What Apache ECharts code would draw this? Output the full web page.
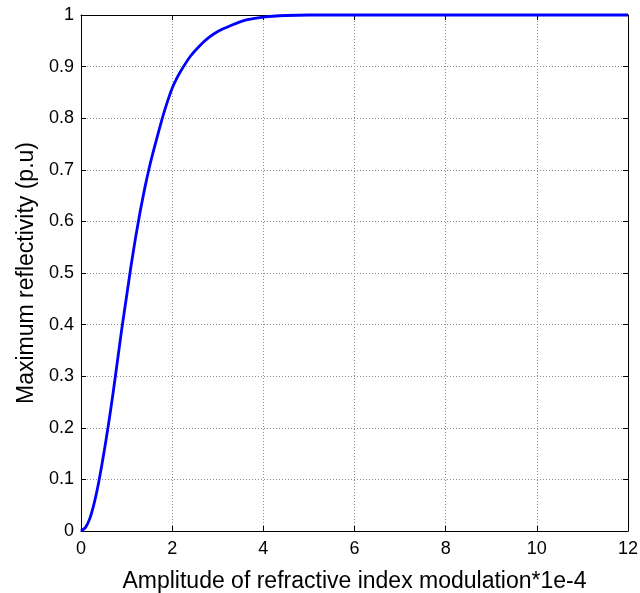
<!DOCTYPE html>
<html>
<head>
<meta charset="utf-8">
<script src="https://cdn.jsdelivr.net/npm/echarts@6/dist/echarts.min.js"></script>
<style>
  html, body { margin: 0; padding: 0; background: #fff; }
  #chart { width: 640px; height: 593px; }
</style>
</head>
<body>
<div id="chart"></div>
<script>
// Amplitude of refractive index modulation (x 1e-4)
const amplitude = [0, 0.1, 0.2, 0.3, 0.4, 0.5, 0.6, 0.7, 0.8, 0.9, 1.0, 1.1, 1.2, 1.3, 1.4, 1.5, 1.6, 1.7, 1.8, 1.9, 2.0, 2.1, 2.2, 2.4, 2.6, 2.8, 3.0, 3.3, 3.6, 4.0, 4.5, 5, 6, 8, 10, 12];
// Maximum reflectivity (p.u)
const reflectivity = [0, 0.007, 0.026, 0.058, 0.10, 0.15, 0.205, 0.265, 0.33, 0.395, 0.455, 0.515, 0.57, 0.62, 0.665, 0.705, 0.74, 0.773, 0.805, 0.833, 0.858, 0.877, 0.893, 0.92, 0.94, 0.956, 0.968, 0.98, 0.99, 0.996, 0.999, 1, 1, 1, 1, 1];

const xTicks = { min: 0, max: 12, interval: 2 };
const yTicks = { min: 0, max: 1, interval: 0.1 };

const font = 'Liberation Sans, Arial, sans-serif';
const chart = echarts.init(document.getElementById('chart'));

const gridLine = { show: true, lineStyle: { color: '#8c8c8c', type: [1, 2], width: 1 } };
const axisLine = { show: true, onZero: false, lineStyle: { color: '#000', width: 1 } };
const innerTick = { show: true, inside: true, length: 5, lineStyle: { color: '#000' } };

chart.setOption({
  animation: false,
  grid: { left: 81, right: 12, top: 15, bottom: 62, containLabel: false, outerBoundsMode: 'none' },
  xAxis: [
    {
      type: 'value', min: xTicks.min, max: xTicks.max, interval: xTicks.interval,
      name: 'Amplitude of refractive index modulation*1e-4',
      nameLocation: 'middle', nameGap: 39,
      nameTextStyle: { fontFamily: font, fontSize: 23, color: '#000' },
      axisLine: axisLine, axisTick: innerTick, splitLine: gridLine,
      axisLabel: { fontFamily: font, fontSize: 18, color: '#000', margin: 9 }
    },
    {
      type: 'value', position: 'top', min: xTicks.min, max: xTicks.max, interval: xTicks.interval,
      axisLine: axisLine, axisTick: innerTick, splitLine: { show: false },
      axisLabel: { show: false }
    }
  ],
  yAxis: [
    {
      type: 'value', min: yTicks.min, max: yTicks.max, interval: yTicks.interval,
      name: 'Maximum reflectivity (p.u)',
      nameLocation: 'middle', nameGap: 43, nameRotate: 90,
      nameTextStyle: { fontFamily: font, fontSize: 23, color: '#000' },
      axisLine: axisLine, axisTick: innerTick, splitLine: gridLine,
      axisLabel: { fontFamily: font, fontSize: 18, color: '#000', margin: 7 }
    },
    {
      type: 'value', position: 'right', min: yTicks.min, max: yTicks.max, interval: yTicks.interval,
      axisLine: axisLine, axisTick: innerTick, splitLine: { show: false },
      axisLabel: { show: false }
    }
  ],
  series: [{
    type: 'line',
    data: amplitude.map((a, i) => [a, reflectivity[i]]),
    smooth: 0.2,
    showSymbol: false,
    lineStyle: { color: '#0000ff', width: 2.8 },
    clip: false
  }]
});
</script>
</body>
</html>
